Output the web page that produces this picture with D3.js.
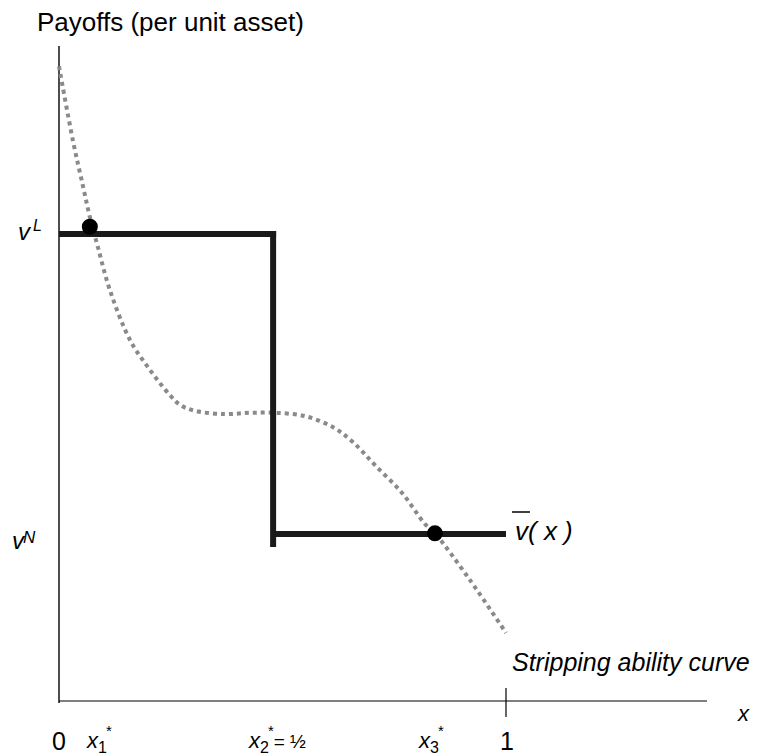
<!DOCTYPE html>
<html><head><meta charset="utf-8">
<script src="https://cdn.jsdelivr.net/npm/d3@7"></script>
<style>
html,body{margin:0;padding:0;background:#fff;}
text{font-family:"Liberation Sans Narrow","Liberation Sans",Arial,sans-serif;fill:#000;}
</style></head><body>
<svg id="c" width="757" height="756"></svg>
<script>
// Stripping ability curve (x in [0,1], payoff index 0..100)
const curveX = [0, 0.031, 0.054, 0.069, 0.087, 0.114, 0.159, 0.204, 0.248, 0.271, 0.304, 0.371, 0.427, 0.483, 0.550, 0.613, 0.658, 0.707, 0.767, 0.819, 0.841, 0.919, 1.0];
const curveY = [96.9, 85.6, 78.5, 73.9, 69.3, 62.7, 55.1, 50.5, 46.7, 45.2, 44.3, 43.8, 44.0, 44.0, 43.5, 41.8, 39.5, 36.0, 31.8, 27.0, 25.6, 18.5, 10.4];
// Step function v-bar(x)
const vL = 71.3, vN = 25.5;
const stepX = [0, 0.479, 1.0];
const stepBottom = 23.5;
// Equilibrium points
const eqX = [0.069, 0.841];
const eqY = [72.4, 25.6];

const svg = d3.select("#c");
const x = d3.scaleLinear().domain([0, 1]).range([59, 506]);
const y = d3.scaleLinear().domain([0, 100]).range([701, 46]);

// axes
svg.append("line").attr("x1", x(0)).attr("x2", 707).attr("y1", y(0)).attr("y2", y(0))
  .attr("stroke", "#555").attr("stroke-width", 1.6);
svg.append("line").attr("x1", x(0)).attr("x2", x(0)).attr("y1", y(100)).attr("y2", y(0) + 2)
  .attr("stroke", "#000").attr("stroke-width", 1.4);
svg.append("line").attr("x1", x(1)).attr("x2", x(1)).attr("y1", y(0) - 13).attr("y2", y(0) + 16)
  .attr("stroke", "#000").attr("stroke-width", 1.2);

// curve
const pts = curveX.map((d, i) => [d, curveY[i]]);
svg.append("path").datum(pts)
  .attr("d", d3.line().x(d => x(d[0])).y(d => y(d[1])).curve(d3.curveCatmullRom))
  .attr("fill", "none").attr("stroke", "#8a8a8a").attr("stroke-width", 4)
  .attr("stroke-dasharray", "4,4");

// step function
const sc = "#1a1a1a";
svg.append("line").attr("x1", x(stepX[0])).attr("x2", x(stepX[1]) + 3).attr("y1", y(vL)).attr("y2", y(vL))
  .attr("stroke", sc).attr("stroke-width", 6);
svg.append("line").attr("x1", x(stepX[1])).attr("x2", x(stepX[1])).attr("y1", y(vL) - 3).attr("y2", y(stepBottom))
  .attr("stroke", sc).attr("stroke-width", 6);
svg.append("line").attr("x1", x(stepX[1])).attr("x2", x(stepX[2])).attr("y1", y(vN)).attr("y2", y(vN))
  .attr("stroke", sc).attr("stroke-width", 6);

// equilibrium dots
svg.selectAll("circle.eq").data(eqX).enter().append("circle")
  .attr("cx", d => x(d)).attr("cy", (d, i) => y(eqY[i])).attr("r", 8).attr("fill", "#000");

// texts
svg.append("text").attr("x", 37).attr("y", 31).attr("font-size", 26).text("Payoffs (per unit asset)");

const vl = svg.append("text").attr("x", 18).attr("y", 240).attr("font-size", 24).attr("font-style", "italic");
vl.append("tspan").text("v");
vl.append("tspan").attr("dx", 3).attr("dy", -9).attr("font-size", 16).text("L");

const vn = svg.append("text").attr("x", 12).attr("y", 549).attr("font-size", 24).attr("font-style", "italic");
vn.append("tspan").text("v");
vn.append("tspan").attr("dx", -1).attr("dy", -6).attr("font-size", 17).text("N");

const vb = svg.append("text").attr("x", 515).attr("y", 540).attr("font-size", 26).attr("font-style", "italic");
vb.append("tspan").text("v");
vb.append("tspan").text("( x )");
svg.append("line").attr("x1", 512).attr("x2", 530).attr("y1", 512).attr("y2", 512).attr("stroke", "#000").attr("stroke-width", 1.5);

svg.append("text").attr("x", 512).attr("y", 671).attr("font-size", 25).attr("font-style", "italic").text("Stripping ability curve");
svg.append("text").attr("x", 738).attr("y", 721).attr("font-size", 22).attr("font-style", "italic").text("x");

svg.append("text").attr("x", 52).attr("y", 750).attr("font-size", 25).text("0");
svg.append("text").attr("x", 500).attr("y", 750).attr("font-size", 25).text("1");

function xstar(px, sub, extra) {
  const t = svg.append("text").attr("x", px).attr("y", 748).attr("font-size", 22);
  t.append("tspan").attr("font-style", "italic").text("x");
  t.append("tspan").attr("dy", 5).attr("font-size", 16).text(sub);
  t.append("tspan").attr("dy", -17).attr("dx", -1).attr("font-size", 15).text("*");
  if (extra) t.append("tspan").attr("dy", 12).attr("font-size", 19).text(extra);
}
xstar(87, "1");
xstar(249, "2", "= ½");
xstar(419, "3");
</script>
</body></html>
